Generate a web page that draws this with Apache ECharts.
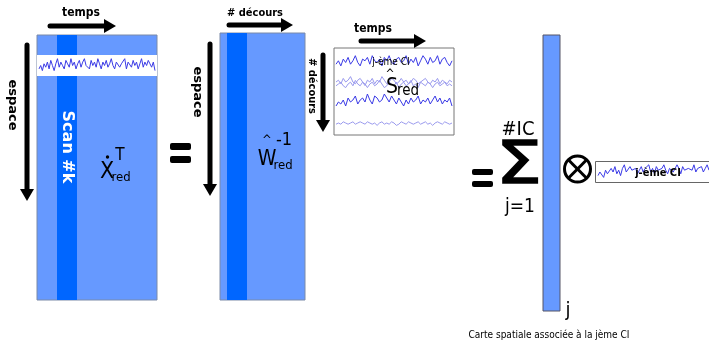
<!DOCTYPE html>
<html><head><meta charset="utf-8">
<script src="https://cdn.jsdelivr.net/npm/echarts@6/dist/echarts.min.js"></script>
<style>html,body{margin:0;padding:0;background:#fff}#c{width:709px;height:342px}</style>
</head><body><div id="c"></div>
<script>
// ---- data (signal samples) ----
const stripSignal = [3,5,2,6,4,7,3,8,5,2,6,9,4,7,5,3,8,6,4,9,5,7,3,6,8,4,7,9,5,6,3,8,5,7,4,9,6,3,7,5,8,4,6,9,5,3,7,8,4,6,5,9,3,7,6,4,8,5,7,3,6,9,4,7,5,8,6,4,7,2];
const ciRow1 = [4,6,3,7,5,8,4,6,9,5,3,7,6,8,4,9,6,5,7,3,8,6,9,5,4,7,8,5,6,9,4,7,5,8,3,6,9,7,4,8,5,6,9,4,7,8,5,3,6];
const ciRow2a = [5,6,4,7,5,6,8,5,4,6,7,5,3,6,5,7,4,6,5,8,6,4,5,7,6,4,5,7,5,6,4,5,7,6,4,5,6,7,5,4,6,5,7,4,6,5,4,6,5];
const ciRow2b = [4,5,6,4,3,5,6,4,7,5,4,6,5,3,5,6,4,5,7,5,3,4,6,5,4,6,3,5,6,4,5,7,4,5,3,6,5,4,6,5,3,5,6,4,5,6,4,5,4];
const ciRow3 = [3,5,4,6,3,7,5,6,8,4,6,7,5,9,6,4,8,7,5,6,9,7,5,8,6,4,7,5,3,6,4,7,5,6,8,4,6,5,7,4,6,8,5,7,4,6,5,7,3];
const ciRow4 = [4,5,4,6,5,4,5,6,4,5,6,5,4,6,5,4,5,3,5,6,4,5,4,6,5,3,4,6,5,4,6,5,4,5,6,4,5,6,4,5,3,5,6,5,4,6,5,4,5];
const ciSmall = [3,5,4,2,6,4,3,7,5,8,4,6,3,7,9,5,4,8,6,5,7,4,6,8,5,7,6,9,5,7,4,8,6,5,7,9,6,4,7,8,5,6,9,7,4,8,6,5,7,8,6,9,5,7,6,8,5,7,9,6];
const labels = {
  temps: "temps", decours: "# décours", espace: "espace", scan: "Scan #k",
  ci: "j-ème CI", nIC: "#IC", j1: "j=1", j: "j",
  carte: "Carte spatiale associée à la jème CI"
};

const LIGHT = '#6699ff', DARK = '#0066ff', SIG_D = '#3a3ae6', SIG_L = '#9a9aee';
const COND = '"DejaVu Sans Condensed","DejaVu Sans",sans-serif';
const SANS = '"DejaVu Sans",sans-serif';

function arrowH(x1, x2, y) {
  return [
    {type:'line', shape:{x1:x1, y1:y, x2:x2-10, y2:y}, style:{stroke:'#000', lineWidth:5, lineCap:'round'}, z:5},
    {type:'polygon', shape:{points:[[x2-12,y-7],[x2,y],[x2-12,y+7]]}, style:{fill:'#000'}, z:5}
  ];
}
function arrowV(x, y1, y2) {
  return [
    {type:'line', shape:{x1:x, y1:y1, x2:x, y2:y2-10}, style:{stroke:'#000', lineWidth:5, lineCap:'round'}, z:5},
    {type:'polygon', shape:{points:[[x-7,y2-12],[x,y2],[x+7,y2-12]]}, style:{fill:'#000'}, z:5}
  ];
}
function txt(t, x, y, font, opts) {
  opts = opts || {};
  const style = {text:t, x:0, y:0, font:font, fill:opts.fill||'#000', align:opts.align||'center', verticalAlign:opts.va||'middle'};
  if (opts.stroke) { style.stroke = opts.stroke; style.lineWidth = opts.lw || 1; }
  return {type:'text', x:x, y:y, rotation:opts.rot||0, scaleX:opts.sx||1, z:opts.z||20, style:style};
}
function eq(x1, x2, yA, yB, h) {
  return [
    {type:'rect', shape:{x:x1, y:yA, width:x2-x1, height:h, r:2}, style:{fill:'#000'}, z:5},
    {type:'rect', shape:{x:x1, y:yB, width:x2-x1, height:h, r:2}, style:{fill:'#000'}, z:5}
  ];
}

const graphics = [].concat(
  // matrix 1
  [{type:'rect', shape:{x:37, y:35, width:120, height:265}, style:{fill:LIGHT, stroke:'#7a8aa8', lineWidth:1}, z:1},
   {type:'rect', shape:{x:57, y:35, width:20, height:265}, style:{fill:DARK}, z:2},
   {type:'rect', shape:{x:37, y:55, width:120, height:21}, style:{fill:'#fff'}, z:3}],
  txt(labels.temps, 81, 13, 'bold 12px ' + COND),
  arrowH(50, 116, 26),
  arrowV(27, 45, 201),
  txt(labels.espace, 12, 105, 'bold 13px ' + SANS, {rot:-Math.PI/2}),
  txt(labels.scan, 67, 147, 'bold 16px ' + SANS, {rot:-Math.PI/2, fill:'#fff'}),
  txt('X', 107, 172, '23px ' + COND),
  [{type:'circle', shape:{cx:107.5, cy:157, r:1.7}, style:{fill:'#000'}, z:20}],
  txt('T', 120, 156, '17px ' + COND),
  txt('red', 121, 178, '13px ' + COND),
  eq(170, 191, 143, 156, 7),
  // matrix 2
  [{type:'rect', shape:{x:220, y:33, width:85, height:267}, style:{fill:LIGHT, stroke:'#7a8aa8', lineWidth:1}, z:1},
   {type:'rect', shape:{x:227, y:33, width:20, height:267}, style:{fill:DARK}, z:2}],
  txt(labels.decours, 255, 13, 'bold 11px ' + COND),
  arrowH(229, 293, 25),
  arrowV(210, 44, 196),
  txt(labels.espace, 197, 92, 'bold 13px ' + SANS, {rot:-Math.PI/2}),
  txt('W', 267, 160, '21px ' + COND),
  txt('^', 267, 141, '13px ' + COND),
  txt('-1', 284, 140, '18px ' + COND),
  txt('red', 283, 166, '13px ' + COND),
  // S matrix
  [{type:'rect', shape:{x:334, y:48, width:120, height:87}, style:{fill:'#fff', stroke:'#777', lineWidth:1}, z:1}],
  txt(labels.temps, 373, 29, 'bold 12px ' + COND),
  arrowH(361, 426, 41),
  arrowV(323, 55, 132),
  txt(labels.decours, 312, 86, 'bold 11px ' + COND, {rot:-Math.PI/2}),
  txt(labels.ci, 391, 62, '10px ' + COND),
  txt('^', 390, 75, '12px ' + COND),
  txt('S', 392, 88, '21px ' + COND),
  txt('red', 408, 91, '15px ' + COND),
  // right part
  eq(472, 493, 169, 181, 6),
  txt('Σ', 519, 168, '58px ' + SANS, {stroke:'#000', lw:1.5, sx:1.25}),
  txt(labels.nIC, 518, 130, '20px ' + COND),
  txt(labels.j1, 520, 207, '19px ' + COND),
  [{type:'rect', shape:{x:543, y:35, width:17, height:276}, style:{fill:LIGHT, stroke:'#556', lineWidth:1}, z:1}],
  txt(labels.j, 568, 311, '20px ' + COND),
  [{type:'circle', shape:{cx:577.5, cy:169, r:13}, style:{fill:'none', stroke:'#000', lineWidth:3}, z:5},
   {type:'line', shape:{x1:568.3, y1:159.8, x2:586.7, y2:178.2}, style:{stroke:'#000', lineWidth:3}, z:5},
   {type:'line', shape:{x1:586.7, y1:159.8, x2:568.3, y2:178.2}, style:{stroke:'#000', lineWidth:3}, z:5},
   {type:'rect', shape:{x:595.5, y:161.5, width:120, height:21}, style:{fill:'#fff', stroke:'#666', lineWidth:1}, z:1}],
  txt(labels.ci, 658, 173, 'bold 11px ' + COND),
  txt(labels.carte, 549, 335, '10px ' + COND)
);

// grids hosting the signals
const sigDefs = [
  {d:stripSignal, c:SIG_D, g:{left:39, top:57, width:116, height:17}},
  {d:ciRow1, c:SIG_D, g:{left:336, top:54, width:116, height:17}},
  {d:ciRow2a, c:SIG_L, g:{left:336, top:73, width:116, height:18}},
  {d:ciRow2b, c:SIG_L, g:{left:336, top:75, width:116, height:18}},
  {d:ciRow3, c:SIG_D, g:{left:336, top:92, width:116, height:20}},
  {d:ciRow4, c:SIG_L, g:{left:336, top:117, width:116, height:12}},
  {d:ciSmall, c:SIG_D, g:{left:598, top:163, width:120, height:18}}
];
const grid = [], xAxis = [], yAxis = [], series = [];
sigDefs.forEach((s, i) => {
  grid.push(Object.assign({containLabel:false}, s.g));
  xAxis.push({type:'category', gridIndex:i, show:false, boundaryGap:false, data:s.d.map((_, k) => k)});
  yAxis.push({type:'value', gridIndex:i, show:false, min:0, max:10});
  series.push({type:'line', xAxisIndex:i, yAxisIndex:i, data:s.d, symbol:'none', silent:true,
    lineStyle:{color:s.c, width:1}, z:3});
});

const chart = echarts.init(document.getElementById('c'), null, {renderer:'canvas'});
chart.setOption({animation:false, backgroundColor:'#fff', grid, xAxis, yAxis, series, graphic:{elements:graphics}});
</script></body></html>
